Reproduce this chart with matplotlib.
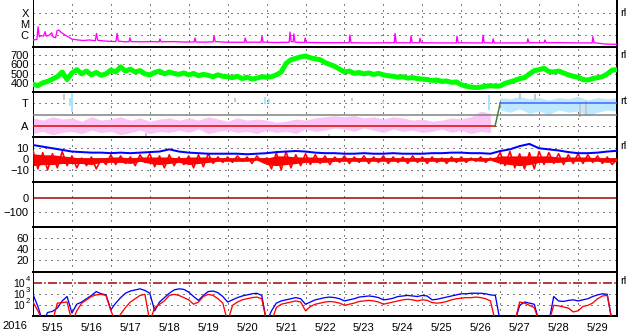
import numpy as np
import matplotlib
matplotlib.use("Agg")
import matplotlib.pyplot as plt
from matplotlib.ticker import NullLocator
from matplotlib.transforms import offset_copy

plt.rcParams["font.family"] = ["Liberation Sans", "DejaVu Sans"]

# time axis: days from 2016-05-15 00:00 UT
year_label = "2016"
day_labels = ["5/15", "5/16", "5/17", "5/18", "5/19", "5/20", "5/21", "5/22",
              "5/23", "5/24", "5/25", "5/26", "5/27", "5/28", "5/29"]

# X-ray flux, (day, log10 W/m2)
xray_pts = [
    (0.00, -6.45), (0.10, -6.40), (0.13, -5.25), (0.16, -6.15), (0.22, -6.05),
    (0.27, -6.10), (0.31, -5.70), (0.34, -6.10), (0.42, -6.00), (0.48, -5.80),
    (0.51, -6.15), (0.58, -6.25), (0.62, -5.60), (0.66, -5.55), (0.72, -5.75),
    (0.80, -5.95), (0.92, -6.20), (1.00, -6.38), (1.15, -6.45), (1.30, -6.50),
    (1.45, -6.45), (1.60, -6.52), (1.63, -5.85), (1.66, -6.48), (1.85, -6.55),
    (2.00, -6.58), (2.13, -6.60), (2.16, -5.85), (2.19, -6.55), (2.35, -6.62),
    (2.47, -6.60), (2.49, -6.25), (2.52, -6.60), (2.80, -6.62), (3.05, -6.60),
    (3.24, -6.62), (3.26, -6.35), (3.29, -6.62), (3.60, -6.60), (3.90, -6.64),
    (4.14, -6.63), (4.16, -6.27), (4.19, -6.64), (4.40, -6.65), (4.63, -6.62),
    (4.65, -6.05), (4.68, -6.60), (5.00, -6.66), (5.43, -6.66), (5.45, -6.27),
    (5.48, -6.66), (5.70, -6.65), (5.86, -6.66), (5.88, -6.10), (5.91, -6.65),
    (6.20, -6.68), (6.58, -6.66), (6.60, -5.73), (6.63, -6.60), (6.68, -6.62),
    (6.70, -5.90), (6.73, -6.65), (6.97, -6.68), (6.99, -6.27), (7.02, -6.68),
    (7.50, -6.70), (8.12, -6.70), (8.14, -6.00), (8.17, -6.70), (8.60, -6.72),
    (9.28, -6.70), (9.30, -5.85), (9.33, -6.70), (9.69, -6.71), (9.71, -6.10),
    (9.74, -6.70), (9.92, -6.70), (9.94, -6.30), (9.97, -6.70), (10.40, -6.72),
    (10.87, -6.72), (10.89, -6.10), (10.92, -6.70), (11.30, -6.72), (11.54, -6.72),
    (11.56, -6.00), (11.59, -6.70), (11.80, -6.72), (11.82, -6.35), (11.85, -6.72),
    (12.30, -6.72), (12.69, -6.72), (12.71, -6.35), (12.74, -6.70), (13.13, -6.70),
    (13.15, -6.45), (13.18, -6.70), (13.60, -6.70), (14.00, -6.72), (14.36, -6.72),
    (14.38, -6.15), (14.41, -6.70), (14.70, -6.82), (15.00, -6.85),
]

# solar wind speed, km/s, every 3 h
sw_speed = [
    390, 375, 405, 420, 445, 470, 520, 440,
    510, 545, 500, 530, 490, 515, 485, 500,
    540, 520, 575, 530, 550, 520, 535, 500,
    490, 515, 530, 500, 520, 505, 495, 510,
    490, 505, 480, 495, 485, 470, 490, 475,
    470, 460, 475, 450, 465, 445, 455, 470,
    465, 470, 490, 520, 610, 650, 665, 680,
    690, 670, 660, 650, 620, 600, 580, 550,
    520, 530, 505, 515, 500, 510, 495, 505,
    490, 480, 475, 465, 470, 455, 460, 450,
    445, 440, 430, 435, 420, 425, 410, 415,
    385, 370, 360, 355, 360, 370, 375, 370,
    372, 400, 415, 430, 450, 460, 500, 535,
    545, 560, 525, 520, 530, 510, 490, 475,
    465, 440, 435, 450, 460, 470, 500, 540,
    545,
]

# IMF sector (T = +1, A = -1), scatter envelopes every 6 h
away_top = [
    -0.3, -0.5, -0.2, -0.4, -0.3, -0.6, -0.2, -0.5,
    -0.4, -0.2, -0.5, -0.3, -0.6, -0.4, -0.3, -0.5,
    -0.3, -0.5, -0.2, -0.4, -0.6, -0.3, -0.5, -0.4,
    -0.5, -0.7, -0.6, -0.4, -0.5, -0.3, -0.2, -0.1,
    -0.2, -0.1, -0.3, -0.2, -0.4, -0.2, -0.3, -0.5,
    -0.4, -0.6, -0.5, -0.3, -0.4, -0.2, 0.3, 0.1,
]
away_bot = [
    -1.7, -1.5, -1.8, -1.6, -1.5, -1.7, -1.4, -1.6,
    -1.5, -1.8, -1.6, -1.4, -1.7, -1.5, -1.6, -1.4,
    -1.6, -1.3, -1.7, -1.5, -1.4, -1.6, -1.5, -1.7,
    -1.4, -1.6, -1.5, -1.7, -1.3, -1.5, -1.4, -1.2,
    -1.3, -1.5, -1.2, -1.4, -1.6, -1.3, -1.5, -1.4,
    -1.6, -1.5, -1.3, -1.6, -1.4, -1.7, -1.5, -1.6,
]
toward_top = [1.5, 1.4, 1.6, 1.4, 1.5, 1.3, 1.5, 1.4, 1.6, 1.3, 1.5, 1.4, 1.5]
toward_bot = [0.4, 0.2, 0.5, 0.1, 0.3, 0.0, 0.4, 0.2, 0.3, -0.1, 0.2, 0.4, 0.3]
cyan_spike_t = [0.95, 1.00, 5.95, 6.05, 9.00, 11.70]
cyan_spike_lo = [0.8, 0.2, 0.9, 1.0, 0.9, 0.4]
cyan_spike_hi = [1.5, 1.95, 1.6, 1.4, 1.2, 1.7]
gray_spike_t = [0.80, 2.90, 5.20, 7.60, 8.20, 12.50, 12.90, 14.05, 14.20]
gray_spike_lo = [1.3, -1.95, 1.1, -1.9, 1.2, 1.4, 1.3, -0.2, 0.0]
gray_spike_hi = [1.8, -1.6, 1.5, -1.7, 1.5, 1.9, 1.8, 1.0, 1.2]
sector_t = [0.0, 11.87, 12.0, 15.0]
sector_v = [-1, -1, 1, 1]

# IMF Bt every 6 h, Bz every 3 h plus its 6 h core envelope (nT)
imf_bt = [
    13, 11.5, 10, 8.5, 7, 6.5, 6, 6, 5.5, 6, 5.5, 6, 6.5, 7, 9, 7,
    6, 5.5, 5, 5, 5, 5, 4.5, 5, 5.5, 6.5, 7, 7.5, 7, 6, 5.5, 5.5,
    5, 5, 5.5, 5, 5, 5.5, 5, 5, 5, 5.5, 5.5, 6, 6, 5.5, 5.5, 5,
    7.5, 9, 12, 14, 10, 9, 8, 6.5, 5.5, 5.5, 6, 7, 7.7,
]
imf_bz = [
    8, -9, 6, -10, 5, -8, 7, -6,
    3, -8, 1, -6, 2, -9, 0, -5,
    4, -5, 3, -4, 2, -6, 4, -3,
    5, -7, 3, -8, 4, -6, 2, -5,
    3, -8, 4, -7, 5, -4, 2, -3,
    2, -3, 3, -2, 2, -4, 3, -2,
    1, -9, 6, -10, 7, -8, 4, -6,
    5, -5, 4, -4, 3, -5, 2, -3,
    3, -4, 2, -3, 3, -4, 2, -3,
    3, -4, 2, -3, 2, -4, 3, -3,
    2, -4, 2, -3, 1, -4, 2, -3,
    2, -3, 1, -2, 2, -3, 1, -2,
    6, -6, 7, -8, 5, -9, 6, -9,
    7, -5, 6, -4, 5, -5, 4, -4,
    5, -4, 4, -3, 3, -4, 2, -5,
    0,
]
bz_core_hi = [
    5, 4, 4, 3, 2, 1, 1, 1, 2, 2, 1, 2, 2, 2, 2, 1,
    2, 2, 2, 1, 1, 1, 1, 1, 1, 3, 3, 2, 2, 2, 1, 1,
    1, 1, 1, 1, 1, 1, 1, 1, 1, 1, 1, 1, 1, 1, 1, 1,
    3, 3, 3, 3, 3, 3, 2, 2, 2, 2, 1, 1, 1,
]
bz_core_lo = [
    -6, -5, -5, -4, -4, -4, -5, -3, -3, -3, -4, -2, -4, -5, -4, -3,
    -5, -4, -3, -2, -2, -2, -2, -1, -5, -6, -5, -4, -3, -3, -3, -2,
    -2, -2, -2, -2, -2, -2, -2, -2, -2, -2, -2, -2, -2, -1, -2, -1,
    -4, -5, -6, -5, -3, -3, -3, -2, -2, -2, -2, -3, -2,
]

# >2 MeV electron flux, log10, every 3 h (0.5 = below scale)
elec_exponents = [4, 3, 2]
elec_a = [
    3.0, 1.9, 0.5, 1.35, 1.45, 1.75, 2.4, 2.8,
    1.3, 2.1, 2.3, 2.6, 2.9, 3.25, 3.05, 2.95,
    1.6, 2.2, 2.7, 3.1, 3.3, 3.4, 3.5, 3.35,
    3.1, 1.5, 2.3, 2.7, 3.1, 3.4, 3.5, 3.45,
    3.2, 2.8, 2.45, 2.9, 3.25, 3.3, 3.15, 2.8,
    2.3, 2.5, 2.7, 2.85, 2.95, 3.05, 3.1, 2.9,
    0.5, 1.5, 2.2, 2.4, 2.5, 2.6, 2.7, 2.6,
    2.1, 2.3, 2.5, 2.6, 2.7, 2.75, 2.7, 2.6,
    2.4, 2.5, 2.6, 2.75, 2.8, 2.85, 2.8, 2.7,
    2.5, 2.55, 2.65, 2.8, 2.85, 2.9, 2.85, 2.8,
    2.9, 2.85, 2.5, 2.55, 2.65, 2.75, 2.85, 2.95,
    3.05, 3.05, 3.1, 3.1, 3.1, 3.05, 2.95, 2.9,
    0.5, 0.5, 0.5, 0.5, 2.0, 2.3, 2.2, 2.1,
    0.5, 0.5, 0.5, 2.8, 2.4, 2.35, 2.45, 2.5,
    2.4, 2.5, 2.6, 2.8, 2.95, 3.05, 3.0, 0.5,
    0.5,
]
elec_b = [
    2.3, 1.5, 0.5, 0.5, 0.5, 2.2, 2.25, 2.3,
    0.5, 1.5, 2.2, 2.5, 2.8, 2.95, 3.0, 2.9,
    1.5, 0.5, 1.2, 1.8, 2.3, 2.6, 2.9, 3.0,
    0.5, 1.8, 2.1, 2.4, 2.9, 3.0, 2.9, 2.7,
    2.5, 2.1, 2.3, 2.8, 3.0, 2.9, 2.6, 2.2,
    0.5, 2.0, 2.3, 2.5, 2.6, 2.7, 2.75, 2.6,
    0.5, 0.5, 1.8, 2.1, 2.2, 2.3, 2.4, 2.3,
    1.5, 1.9, 2.1, 2.2, 2.3, 2.35, 2.3, 2.2,
    2.0, 2.1, 2.2, 2.35, 2.4, 2.45, 2.4, 2.3,
    2.1, 2.2, 2.3, 2.4, 2.5, 2.55, 2.5, 2.4,
    2.5, 2.45, 2.25, 2.2, 2.25, 2.35, 2.5, 2.6,
    2.65, 2.7, 2.7, 2.75, 2.7, 2.6, 2.4, 0.5,
    0.5, 0.5, 0.5, 0.5, 2.3, 2.2, 2.0, 1.8,
    0.5, 0.5, 0.5, 2.0, 1.95, 1.85, 1.75, 1.4,
    1.5, 1.9, 2.0, 2.2, 2.6, 2.85, 2.9, 0.5,
    0.5,
]

t3h = np.arange(len(sw_speed)) / 8
t6h = np.arange(len(imf_bt)) / 4

W, H = 633, 334
PX = 0.72  # one pixel in points
DOT = (0, (1, 5))
DARK_RED = "#a00000"
FS = 8

fig = plt.figure(figsize=(W / 100, H / 100), dpi=100)
edges = [0, 47, 92, 137, 182, 227, 272, 316]
axes = []
for i in range(7):
    top, bot = edges[i], edges[i + 1]
    ax = fig.add_axes([33 / W, 1 - bot / H, 584 / W, (bot - top) / H])
    ax.set_xlim(0, 15)
    ax.set_xticks([])
    ax.tick_params(axis="y", length=0, pad=3, labelsize=FS)
    ax.spines["top"].set_linewidth(2 * PX)
    ax.spines["bottom"].set_linewidth(2 * PX)
    ax.spines["left"].set_linewidth(PX)
    ax.spines["right"].set_linewidth(2 * PX)
    for d in range(1, 15):
        ax.axvline(d, color="black", lw=PX, ls=DOT, zorder=1)
    axes.append(ax)
ax1, ax2, ax3, ax4, ax5, ax6, ax7 = axes
ax1.spines["top"].set_visible(False)


def hgrid(ax, vals):
    for v in vals:
        ax.axhline(v, color="black", lw=PX, ls=DOT, zorder=1)


def tag(ax, y, txt):
    ax.text(1.005, y, txt, transform=ax.get_yaxis_transform(), fontsize=FS,
            ha="left", va="center", clip_on=False)


# X-ray
xt = [p[0] for p in xray_pts]
xv = [10 ** p[1] for p in xray_pts]
ax1.set_yscale("log")
ax1.set_ylim(10 ** -7.09, 10 ** -2.82)
ax1.set_yticks([1e-4, 1e-5, 1e-6])
ax1.set_yticklabels(["X", "M", "C"])
ax1.yaxis.set_minor_locator(NullLocator())
hgrid(ax1, [1e-4, 1e-5, 1e-6])
ax1.plot(xt, xv, color="#ff00ff", lw=1.3 * PX, zorder=3)
tag(ax1, 1e-4, "rl")

# solar wind speed
ax2.set_ylim(308, 785)
ax2.set_yticks([700, 600, 500, 400])
hgrid(ax2, [700, 600, 500, 400])
ax2.plot(t3h, sw_speed, color="#00ff00", lw=5 * PX, zorder=3)
tag(ax2, 700, "rl")

# IMF sector
ax3.set_ylim(-2, 2)
ax3.set_yticks([1, -1])
ax3.set_yticklabels(["T", "A"])
hgrid(ax3, [1, -1])
ta = np.arange(len(away_top)) / 4
tt = 12 + np.arange(len(toward_top)) / 4
ax3.fill_between(ta, away_bot, away_top, color="#fcc4f4", lw=0, zorder=2)
ax3.fill_between(tt, toward_bot, toward_top, color="#bde9ff", lw=0, zorder=2)
ax3.vlines(cyan_spike_t, cyan_spike_lo, cyan_spike_hi, color="#a8e4ff", lw=2 * PX, zorder=2)
ax3.vlines(gray_spike_t, gray_spike_lo, gray_spike_hi, color="#c8c8c8", lw=2 * PX, zorder=2)
ax3.axhline(0, color="#808080", lw=1.5 * PX, zorder=3)
ax3.plot(sector_t[:2], sector_v[:2], color="#e00000", lw=1.5 * PX, zorder=4)
ax3.plot(sector_t[1:3], sector_v[1:3], color="#408040", lw=1.5 * PX, zorder=4)
ax3.plot(sector_t[2:], sector_v[2:], color="#4060ff", lw=1.5 * PX, zorder=4)
tag(ax3, 1.2, "rt")

# IMF Bt / Bz
ax4.set_ylim(-21.06, 20.4)
ax4.set_yticks([10, 0, -10])
hgrid(ax4, [10, -10])
ax4.axhline(0, color=DARK_RED, lw=1.5 * PX, zorder=2)
ax4.fill_between(t6h, bz_core_lo, bz_core_hi, color="#ff0000", lw=0, zorder=3)
ax4.plot(t3h, imf_bz, color="#ff0000", lw=1.6 * PX, zorder=3)
ax4.plot(t6h, imf_bt, color="#0000ff", lw=2 * PX, zorder=4)
tag(ax4, 12, "rl")

# Dst
ax5.set_ylim(-200.7, 107.5)
ax5.set_yticks([0, -100])
hgrid(ax5, [-100])
ax5.axhline(0, color=DARK_RED, lw=1.5 * PX, zorder=2)

# empty index panel
ax6.set_ylim(-2.1, 80.8)
ax6.set_yticks([60, 40, 20])
hgrid(ax6, [60, 40, 20])

# electrons: "10" as tick label, exponent as a small raised text
ax7.set_yscale("log")
ax7.set_ylim(10 ** 1.03, 10 ** 5.03)
ticks7 = [10.0 ** e for e in elec_exponents]
ax7.set_yticks(ticks7)
ax7.set_yticklabels(["10"] * len(ticks7))
ax7.tick_params(axis="y", labelsize=7.5, pad=6)
ax7.yaxis.set_minor_locator(NullLocator())
sup_tr = offset_copy(ax7.get_yaxis_transform(), fig=fig, x=0, y=4, units="dots")
for e, v in zip(elec_exponents, ticks7):
    ax7.text(-7 / 584, v, str(e), transform=sup_tr, fontsize=5.5,
             ha="left", va="center", clip_on=False)
hgrid(ax7, [1e3, 1e2])
ax7.axhline(1e4, color=DARK_RED, lw=1.5 * PX, ls=(0, (6, 1.5, 1, 1.5)), zorder=2)
ax7.plot(t3h, 10 ** np.array(elec_a), color="#0000ff", lw=1.3 * PX, zorder=3)
ax7.plot(t3h, 10 ** np.array(elec_b), color="#ff0000", lw=1.3 * PX, zorder=4)
tag(ax7, 10 ** 4.2, "rl")

ax7.set_xticks(np.arange(15) + 0.5)
ax7.set_xticklabels(day_labels)
ax7.tick_params(axis="x", length=0, pad=5, labelsize=FS)
fig.text(2 / W, 1 - 326 / H, year_label, fontsize=FS, ha="left", va="center")

fig.savefig("out.png", dpi=100)
